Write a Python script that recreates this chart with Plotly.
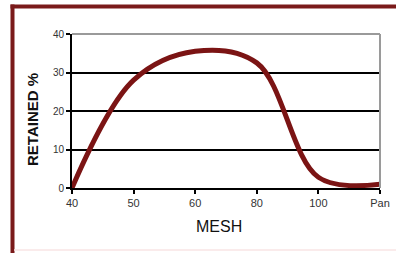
import plotly.graph_objects as go

mesh = ["40", "50", "60", "80", "100", "Pan"]
retained = [0, 28, 35.5, 32.5, 2.8, 1.0]
y_ticks = [0, 10, 20, 30, 40]

W, H = 396, 253
L, R, T, B = 72, 16, 34, 65
pw, ph = W - L - R, H - T - B

def px_x(p):
    return (p - L) / pw

def px_y(p):
    return (H - B - p) / ph

fig = go.Figure()
fig.add_trace(go.Scatter(
    x=mesh, y=retained, mode="lines",
    line=dict(color="#7b1414", width=5, shape="spline", smoothing=1.0),
    hoverinfo="skip", showlegend=False,
))

frame = "#7a1a1a"
shapes = [
    dict(type="line", xref="paper", yref="paper", x0=px_x(10.5), x1=px_x(400), y0=px_y(6.5), y1=px_y(6.5),
         line=dict(color=frame, width=4), layer="below"),
    dict(type="line", xref="paper", yref="paper", x0=px_x(12.5), x1=px_x(12.5), y0=px_y(4.5), y1=px_y(260),
         line=dict(color=frame, width=4), layer="below"),
    dict(type="line", xref="paper", yref="paper", x0=px_x(14), x1=px_x(396), y0=px_y(250), y1=px_y(250),
         line=dict(color="#f8e4e4", width=1.5), layer="below"),
    dict(type="line", xref="paper", yref="paper", x0=0, x1=1, y0=1, y1=1,
         line=dict(color="#9a9a9a", width=2), layer="above"),
    dict(type="line", xref="paper", yref="paper", x0=1, x1=1, y0=0, y1=1,
         line=dict(color="#9a9a9a", width=2), layer="above"),
]

annotations = [
    dict(text="MESH", xref="paper", yref="paper", x=px_x(219), y=px_y(226),
         showarrow=False, font=dict(size=16, color="#111111"), xanchor="center", yanchor="middle"),
    dict(text="<b>RETAINED %</b>", xref="paper", yref="paper", x=px_x(32), y=px_y(120),
         showarrow=False, textangle=-90, font=dict(size=15, color="#111111"),
         xanchor="center", yanchor="middle"),
]

fig.update_layout(
    width=W, height=H,
    margin=dict(l=L, r=R, t=T, b=B, autoexpand=False),
    paper_bgcolor="white", plot_bgcolor="white",
    font=dict(family="Liberation Sans, Arial, sans-serif", color="#333333", size=10),
    shapes=shapes, annotations=annotations,
    xaxis=dict(
        type="category", range=[0, len(mesh) - 1], automargin=False,
        showgrid=False, zeroline=False,
        showline=True, linecolor="black", linewidth=2,
        ticks="outside", ticklen=4, tickwidth=2, tickcolor="black",
        tickfont=dict(size=11, color="#333333"),
    ),
    yaxis=dict(
        range=[0, 40], tickvals=y_ticks, ticktext=[str(v) for v in y_ticks], automargin=False,
        showgrid=True, gridcolor="black", gridwidth=2,
        zeroline=False,
        showline=True, linecolor="black", linewidth=2,
        ticks="outside", ticklen=4, tickwidth=2, tickcolor="black",
        tickfont=dict(size=10, color="#333333"),
    ),
)

fig.write_html("out.html", config={"displayModeBar": False},
               post_script="document.body.style.margin='0';document.body.style.overflow='hidden';")
